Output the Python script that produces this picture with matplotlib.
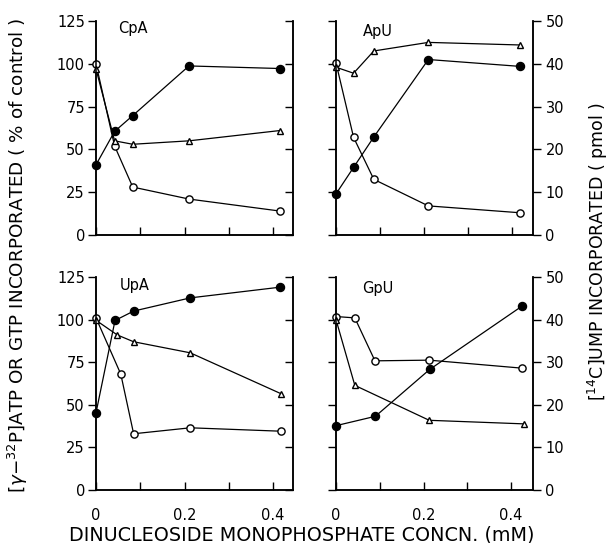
import matplotlib
matplotlib.use('Agg')
import matplotlib.pyplot as plt

plt.rcParams['font.family'] = ['DejaVu Sans']
plt.rcParams['mathtext.fontset'] = 'dejavusans'

# ---------------- data (concentration in mM) ----------------
# open circles / triangles: % of control (left axis); filled circles: pmol UMP (right axis)
cpa_x = [0, 0.042, 0.083, 0.21, 0.415]
cpa_open = [100, 52, 28, 21, 14]
cpa_tri = [97, 55, 53, 55, 61]
cpa_filled = [16.4, 24.2, 27.9, 39.5, 38.9]

apu_x = [0, 0.04, 0.086, 0.21, 0.418]
apu_open = [100.5, 57, 32.5, 17, 13]
apu_tri = [98, 94.5, 107.5, 112.5, 111]
apu_filled = [9.6, 15.8, 22.9, 41, 39.4]

upa_x_open = [0, 0.056, 0.085, 0.213, 0.418]
upa_open = [101, 68, 33, 36.5, 34.5]
upa_x_tri = [0, 0.048, 0.085, 0.213, 0.418]
upa_tri = [99.6, 91, 87, 80.5, 56.5]
upa_x_filled = [0, 0.043, 0.085, 0.213, 0.415]
upa_filled = [18.1, 39.8, 42, 45.1, 47.6]

gpu_x_open = [0, 0.043, 0.089, 0.213, 0.425]
gpu_open = [101.8, 101, 75.8, 76.2, 71.5]
gpu_x_tri = [0, 0.043, 0.213, 0.43]
gpu_tri = [100, 61.4, 40.9, 38.8]
gpu_x_filled = [0, 0.09, 0.214, 0.424]
gpu_filled = [15.1, 17.3, 28.3, 43.1]

pct_ticks = [0, 25, 50, 75, 100, 125]
pmol_ticks = [0, 10, 20, 30, 40, 50]
x_ticks = [0, 0.1, 0.2, 0.3, 0.4]
x_ticklabels = ['0', '', '0.2', '', '0.4']

W, H = 610, 543
fig = plt.figure(figsize=(6.1, 5.43), dpi=100)


def make_ax(l, t, r, b):
    return fig.add_axes([l / W, 1 - b / H, (r - l) / W, (b - t) / H])


def draw(ax, title, tpos, xo, yo, xt, yt, xf, yf, xmax, left_lab, right_lab, bottom_lab):
    ax.set_xlim(0, xmax)
    ax.set_ylim(0, 125)
    ax2 = ax.twinx()
    ax2.set_ylim(0, 50)
    for a in (ax, ax2):
        a.spines['top'].set_visible(False)
        for s in ('left', 'right', 'bottom'):
            a.spines[s].set_linewidth(1.1)
    ax.plot(xo, yo, '-o', color='black', mfc='white', mec='black', ms=5.2, mew=1.0, lw=0.9, clip_on=False, zorder=3)
    ax.plot(xt, yt, '-^', color='black', mfc='white', mec='black', ms=4.8, mew=1.0, lw=0.9, clip_on=False, zorder=3)
    ax2.plot(xf, yf, '-o', color='black', mfc='black', mec='black', ms=5.8, lw=0.9, clip_on=False, zorder=3)

    ax.set_yticks(pct_ticks)
    ax.tick_params(axis='y', direction='out', length=6, width=1.0, pad=2, labelsize=10.5, labelleft=left_lab)
    ax2.set_yticks(pmol_ticks)
    ax2.tick_params(axis='y', direction='out' if right_lab else 'in', length=6, width=1.0, pad=3,
                    labelsize=10.5, labelright=right_lab)
    ax.set_xticks(x_ticks)
    ax.set_xticklabels(x_ticklabels)
    ax.tick_params(axis='x', direction='in', length=6, width=1.0, pad=13, labelsize=10.5, labelbottom=bottom_lab)
    ax.text(tpos[0], tpos[1], title, transform=ax.transAxes, fontsize=10.5, ha='left', va='center')


ax_cpa = make_ax(96, 21, 293, 235)
ax_apu = make_ax(336, 21, 533, 235)
ax_upa = make_ax(96, 277, 293, 490)
ax_gpu = make_ax(336, 277, 533, 490)

draw(ax_cpa, 'CpA', (0.112, 0.967), cpa_x, cpa_open, cpa_x, cpa_tri, cpa_x, cpa_filled, 0.445, True, False, False)
draw(ax_apu, 'ApU', (0.137, 0.953), apu_x, apu_open, apu_x, apu_tri, apu_x, apu_filled, 0.448, False, True, False)
draw(ax_upa, 'UpA', (0.122, 0.962), upa_x_open, upa_open, upa_x_tri, upa_tri, upa_x_filled, upa_filled, 0.445, True, False, True)
draw(ax_gpu, 'GpU', (0.132, 0.948), gpu_x_open, gpu_open, gpu_x_tri, gpu_tri, gpu_x_filled, gpu_filled, 0.45, False, True, True)

fig.text(18 / W, 1 - 255 / H, r'[$\gamma$$-$$^{32}$P]ATP OR GTP INCORPORATED ( % of control )',
         rotation=90, ha='center', va='center', fontsize=13.2)
fig.text(598 / W, 1 - 252 / H, r'[$^{14}$C]UMP INCORPORATED ( pmol )',
         rotation=90, ha='center', va='center', fontsize=12.5)
fig.text(302 / W, 1 - 535 / H, 'DINUCLEOSIDE MONOPHOSPHATE CONCN. (mM)',
         ha='center', va='center', fontsize=13.8)

fig.savefig('out.png', dpi=100)
